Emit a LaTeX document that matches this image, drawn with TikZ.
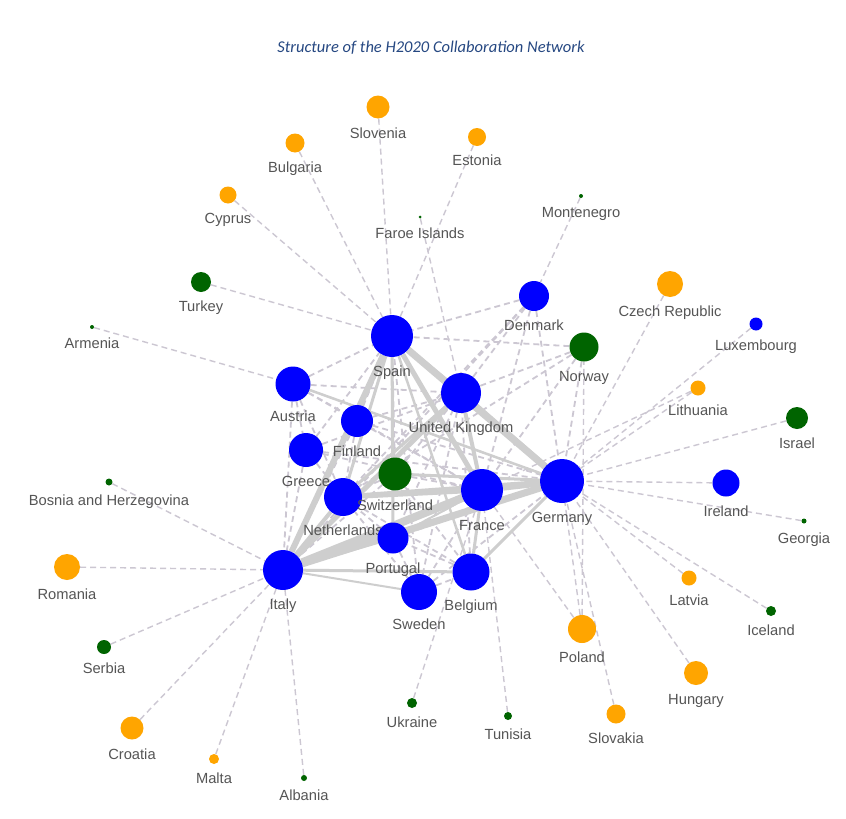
\documentclass[tikz,border=0pt]{standalone}
\usepackage{fontspec}
\setmainfont{Liberation Sans}
\newfontfamily\titlefont{Carlito}
\pgfdeclarelayer{bg}
\pgfsetlayers{bg,main}
\definecolor{cblue}{RGB}{0,0,255}
\definecolor{cgreen}{RGB}{0,100,0}
\definecolor{corange}{RGB}{255,165,0}
\definecolor{edgec}{RGB}{204,199,210}
\definecolor{thickc}{RGB}{206,206,206}
\definecolor{lblc}{RGB}{85,85,85}
\definecolor{titlec}{RGB}{38,72,130}
\tikzset{
 dot/.style={circle, inner sep=0pt, draw=none},
 lbl/.style={font=\fontsize{14.7}{17}\selectfont, text=lblc, inner sep=0pt, text height=10.5pt, text depth=3pt},
 weak/.style={draw=edgec, line width=1.8pt, dash pattern=on 6pt off 4pt},
 spoke/.style={draw=edgec, line width=1.4pt, dash pattern=on 6pt off 4pt},
 strong/.style={draw=thickc, line width=#1},
}
\newcommand\cty[6]{%
 \node[dot, minimum size=#4pt, fill=#5] (#1) at (#2,#3) {};
 \node[lbl] (#1-l) at (#2,#3+#4/2+16) {#6};}
\begin{document}
\begin{tikzpicture}[x=1pt,y=-1pt]
\useasboundingbox (0,0) rectangle (846,819);
\node[font=\titlefont\itshape\fontsize{16.5}{19}\selectfont, text=titlec] (title) at (431,48) {Structure of the H2020 Collaboration Network};
% core
\cty{ES}{392}{336}{42}{cblue}{Spain}
\cty{UK}{461}{393}{40}{cblue}{United Kingdom}
\cty{DE}{562}{481}{44}{cblue}{Germany}
\cty{FR}{482}{490}{42}{cblue}{France}
\cty{IT}{283}{570}{40}{cblue}{Italy}
\cty{NL}{343}{497}{38}{cblue}{Netherlands}
\cty{BE}{471}{572}{37}{cblue}{Belgium}
\cty{PT}{393}{538}{31}{cblue}{Portugal}
\cty{SE}{419}{592}{36}{cblue}{Sweden}
\cty{GR}{306}{450}{34}{cblue}{Greece}
\cty{AT}{293}{384}{35}{cblue}{Austria}
\cty{FI}{357}{421}{32}{cblue}{Finland}
\cty{CH}{395}{474}{33}{cgreen}{Switzerland}
\cty{DK}{534}{296}{30}{cblue}{Denmark}
\cty{NO}{584}{347}{29}{cgreen}{Norway}
\cty{IE}{726}{483}{27}{cblue}{Ireland}
\cty{LU}{756}{324}{13}{cblue}{Luxembourg}
% periphery
\cty{SI}{378}{107}{23}{corange}{Slovenia}
\cty{BG}{295}{143}{19}{corange}{Bulgaria}
\cty{EE}{477}{137}{18}{corange}{Estonia}
\cty{CY}{228}{195}{17}{corange}{Cyprus}
\cty{FO}{420}{217}{3}{cgreen}{Faroe Islands}
\cty{ME}{581}{196}{4}{cgreen}{Montenegro}
\cty{TR}{201}{282}{20}{cgreen}{Turkey}
\cty{AM}{92}{327}{4}{cgreen}{Armenia}
\cty{CZ}{670}{284}{26}{corange}{Czech Republic}
\cty{LT}{698}{388}{15}{corange}{Lithuania}
\cty{IL}{797}{418}{22}{cgreen}{Israel}
\cty{BA}{109}{482}{7}{cgreen}{Bosnia and Herzegovina}
\cty{GE}{804}{521}{5}{cgreen}{Georgia}
\cty{RO}{67}{567}{26}{corange}{Romania}
\cty{LV}{689}{578}{15}{corange}{Latvia}
\cty{PL}{582}{629}{28}{corange}{Poland}
\cty{IS}{771}{611}{10}{cgreen}{Iceland}
\cty{RS}{104}{647}{14}{cgreen}{Serbia}
\cty{HU}{696}{673}{24}{corange}{Hungary}
\cty{UA}{412}{703}{10}{cgreen}{Ukraine}
\cty{TN}{508}{716}{8}{cgreen}{Tunisia}
\cty{SK}{616}{714}{19}{corange}{Slovakia}
\cty{HR}{132}{728}{23}{corange}{Croatia}
\cty{MT}{214}{759}{10}{corange}{Malta}
\cty{AL}{304}{778}{6}{cgreen}{Albania}
\begin{pgfonlayer}{bg}
\fill[white] (0,0) rectangle (846,819);
% spokes
\foreach \a/\b in {SI/ES,BG/ES,CY/ES,EE/ES,TR/ES,AM/AT,FO/UK,ME/DK,
  CZ/DE,LU/DE,LT/DE,LT/FR,IL/DE,IE/DE,GE/DE,LV/DE,IS/DE,HU/DE,SK/DE,PL/DE,PL/FR,PL/NO,
  BA/IT,RO/IT,RS/IT,HR/IT,MT/IT,AL/IT,UA/FR,TN/FR}
  \draw[spoke] (\a) -- (\b);
% weak core links
\foreach \a/\b in {AT/ES,AT/UK,AT/DE,AT/FR,AT/IT,AT/NL,AT/GR,AT/FI,
  FI/ES,FI/UK,FI/DE,FI/FR,FI/IT,FI/NL,
  GR/ES,GR/IT,GR/UK,GR/DE,GR/FR,GR/NL,
  CH/ES,CH/UK,CH/FR,CH/IT,CH/NL,CH/BE,
  DK/ES,DK/UK,DK/FR,DK/DE,DK/NL,DK/IT,
  NO/ES,NO/UK,NO/DE,NO/FR,NO/NL,
  PT/DE,PT/UK,PT/FR,PT/NL,
  SE/ES,SE/DE,SE/FR,SE/UK,SE/BE,SE/NL,SE/PT,
  BE/UK,BE/NL,BE/PT}
  \draw[weak] (\a) -- (\b);
% strong core links
\draw[strong=7pt] (ES) -- (DE);
\draw[strong=6pt] (ES) -- (IT);
\draw[strong=7pt] (IT) -- (DE);
\draw[strong=8pt] (IT) -- (FR);
\draw[strong=5pt] (IT) -- (UK);
\draw[strong=5pt] (ES) -- (UK);
\draw[strong=5pt] (ES) -- (FR);
\draw[strong=6pt] (UK) -- (DE);
\draw[strong=6pt] (FR) -- (DE);
\draw[strong=5pt] (NL) -- (DE);
\draw[strong=5pt] (NL) -- (FR);
\draw[strong=4pt] (UK) -- (FR);
\draw[strong=4pt] (IT) -- (NL);
\draw[strong=3pt] (ES) -- (NL);
\draw[strong=3pt] (IT) -- (BE);
\draw[strong=3pt] (IT) -- (PT);
\draw[strong=3pt] (BE) -- (DE);
\draw[strong=3pt] (BE) -- (FR);
\draw[strong=3pt] (UK) -- (NL);
\draw[strong=2.5pt] (ES) -- (BE);
\draw[strong=3pt] (ES) -- (PT);
\draw[strong=3pt] (DE) -- (CH);
\draw[strong=2.5pt] (DE) -- (AT);
\draw[strong=2pt] (FR) -- (PT);
\draw[strong=2pt] (IT) -- (SE);
\end{pgfonlayer}
\end{tikzpicture}
\end{document}
